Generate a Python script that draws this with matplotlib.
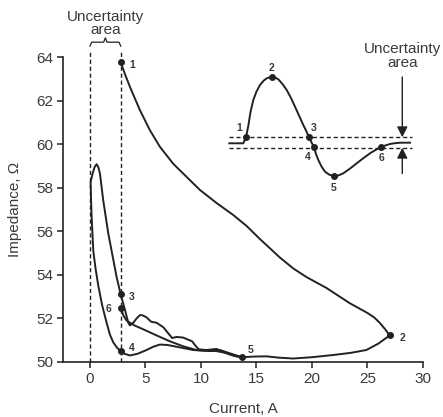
import matplotlib
matplotlib.use("Agg")
import matplotlib.pyplot as plt

plt.rcParams['font.family'] = ['Liberation Sans', 'DejaVu Sans']

INK = '#222222'
TXT = '#3a3a3a'

# main loop (current A, impedance ohm)
arc_12_x = [2.77, 3.2, 3.6, 4.5, 5.4, 6.3, 7.5, 8.7, 9.9, 11.4, 12.9, 14.1, 15.3, 17.1, 18.3,
            19.5, 21.3, 23.4, 25.0, 25.6, 26.1, 26.6, 27.0]
arc_12_y = [63.75, 63.15, 62.63, 61.56, 60.64, 59.88, 59.1, 58.5, 57.9, 57.3, 56.75, 56.25, 55.65,
            54.8, 54.3, 53.9, 53.4, 52.7, 52.25, 52.05, 51.8, 51.5, 51.22]

arc_25_x = [27.0, 26.0, 24.9, 23.5, 21.9, 20.0, 18.3, 17.0, 15.9, 14.8, 13.7]
arc_25_y = [51.22, 50.85, 50.55, 50.42, 50.32, 50.22, 50.16, 50.2, 50.26, 50.25, 50.22]

arc_53_x = [13.7, 13.2, 12.3, 11.4, 10.5, 9.8, 9.5, 9.2, 8.4, 7.8, 7.4, 7.0, 6.6, 6.0, 5.5, 5.1,
            4.7, 4.5, 4.2, 3.9, 3.6, 3.45, 3.15, 2.77, 2.4, 2.1, 1.65, 1.2, 0.9, 0.75, 0.6,
            0.42, 0.24, 0.06, 0.1, 0.15, 0.3, 0.5, 0.75, 1.1, 1.5, 1.8, 2.1, 2.45, 2.77]
arc_53_y = [50.22, 50.25, 50.4, 50.6, 50.55, 50.58, 50.75, 50.95, 51.12, 51.15, 51.1, 51.35, 51.6,
            51.8, 51.85, 52.05, 52.15, 52.15, 52.0, 51.8, 51.68, 51.8, 52.4, 53.1, 53.9, 54.7,
            55.9, 57.4, 58.65, 58.95, 59.08, 58.95, 58.65, 58.27, 57.4, 56.67, 55.1, 54.3, 53.5,
            52.6, 51.8, 51.25, 50.9, 50.65, 50.5]

arc_45_x = [2.77, 3.1, 3.6, 4.3, 5.1, 5.7, 6.3, 7.0, 7.8, 9.3, 10.8, 11.7, 12.3, 12.9, 13.7]
arc_45_y = [50.5, 50.38, 50.3, 50.38, 50.55, 50.7, 50.8, 50.78, 50.7, 50.55, 50.5, 50.55, 50.45,
            50.35, 50.22]

arc_56_x = [13.7, 12.9, 12.2, 11.4, 10.5, 9.6, 8.4, 7.2, 6.0, 4.8, 4.0, 3.3, 3.0, 2.77]
arc_56_y = [50.22, 50.3, 50.42, 50.5, 50.52, 50.55, 50.72, 50.95, 51.22, 51.5, 51.68, 51.9, 52.15, 52.5]

pt_labels = ['1', '2', '3', '4', '5', '6']
pt_x = [2.77, 27.0, 2.77, 2.77, 13.7, 2.77]
pt_y = [63.75, 51.22, 53.1, 50.5, 50.22, 52.5]
pt_off = [(6, -2), (7, -2), (6, -2), (6, 2), (4, 5), (-11, -1)]

unc_lo, unc_hi = 0.0, 2.77

# inset schematic (figure pixel coords)
wave_x = [229.3, 243.3, 246, 248.3, 250.5, 253.3, 256.5, 260, 263.5, 266.7, 271.7, 275, 278.3,
          282.5, 286.7, 291, 295, 299, 303.3, 306.5, 309, 314, 316, 318.3, 321.5, 325, 329.5,
          334, 338.5, 343.3, 350, 356.7, 363.5, 370, 375.5, 380.7, 385.5, 390, 395, 400, 410]
wave_y = [143.3, 143.3, 137.3, 126, 112, 100, 91.5, 85, 80.8, 78.3, 76.7, 77.4, 79.3, 84, 90,
          98, 106.7, 115.5, 125, 131.5, 137.3, 147.3, 154, 160, 166.5, 171.7, 174.8, 176, 175.4,
          173.3, 168.6, 163.3, 158.1, 153.3, 150, 147.3, 145.4, 144, 143.2, 142.7, 142.7]
wave_pt_x = [246, 271.7, 309, 314, 334, 380.7]
wave_pt_y = [137.3, 76.7, 137.3, 147.3, 176, 147.3]
wave_lab_x = [239.5, 271.7, 314, 307.7, 333.3, 381.7]
wave_lab_y = [127.7, 67.7, 127.7, 156.7, 187.7, 158.3]
band_y = [137.3, 147.7]

fig = plt.figure(figsize=(4.43, 4.17), dpi=100)
ax = fig.add_axes([0.1422, 0.1319, 0.8126, 0.7314])

for xs, ys in [(arc_12_x, arc_12_y), (arc_25_x, arc_25_y), (arc_53_x, arc_53_y),
               (arc_45_x, arc_45_y), (arc_56_x, arc_56_y)]:
    ax.plot(xs, ys, color=INK, lw=1.4, solid_joinstyle='round', solid_capstyle='round', zorder=3)

ax.plot(pt_x, pt_y, 'o', color=INK, ms=4, zorder=4)
for lab, x, y, off in zip(pt_labels, pt_x, pt_y, pt_off):
    ax.annotate(lab, (x, y), xytext=off, textcoords='offset points', fontsize=7.5,
                fontweight='bold', color=TXT, va='center', ha='left')

for xv in [unc_lo, unc_hi]:
    ax.plot([xv, xv], [50, 64.3], ls=(0, (3, 2)), color=INK, lw=1.0, clip_on=False, zorder=2)

# brace over the uncertainty band
mid = (unc_lo + unc_hi) / 2
bx = [unc_lo, unc_lo + 0.15, mid - 0.15, mid, mid + 0.15, unc_hi - 0.15, unc_hi]
by = [64.5, 64.68, 64.68, 64.88, 64.68, 64.68, 64.5]
ax.plot(bx, by, color=INK, lw=0.9, clip_on=False)
ax.text(mid, 65.55, 'Uncertainty\narea', ha='center', va='center', fontsize=11,
        color=TXT, linespacing=0.95, clip_on=False)

ax.set_xlim(-2.43, 30)
ax.set_ylim(50, 64)
ax.set_xticks([0, 5, 10, 15, 20, 25, 30])
ax.set_yticks([50, 52, 54, 56, 58, 60, 62, 64])
ax.spines['top'].set_visible(False)
ax.spines['right'].set_visible(False)
for s in ['left', 'bottom']:
    ax.spines[s].set_color(INK)
    ax.spines[s].set_linewidth(1.2)
ax.tick_params(direction='out', length=4, width=1.1, colors=INK, labelsize=11, labelcolor=TXT, pad=3)
ax.set_xlabel('Current, A', fontsize=11, color=TXT, labelpad=12)
ax.set_ylabel('Impedance, Ω', fontsize=11, color=TXT, labelpad=10)
ax.patch.set_alpha(0)

# overlay for the schematic inset
ov = fig.add_axes([0, 0, 1, 1])
ov.set_xlim(0, 443)
ov.set_ylim(417, 0)
ov.axis('off')
ov.patch.set_alpha(0)
ov.plot(wave_x, wave_y, color=INK, lw=1.4, solid_joinstyle='round')
ov.plot(wave_pt_x, wave_pt_y, 'o', color=INK, ms=4)
for lab, x, y in zip(pt_labels, wave_lab_x, wave_lab_y):
    ov.text(x, y, lab, fontsize=7.5, fontweight='bold', color=TXT, ha='center', va='center')
for yb in band_y:
    ov.plot([229, 411.7], [yb, yb], ls=(0, (3, 2)), color=INK, lw=1.0)
head = '-|>,head_length=0.7,head_width=0.35'
ov.annotate('', xy=(402.3, band_y[0]), xytext=(402.3, 77),
            arrowprops=dict(arrowstyle=head, color=INK, lw=1.0, mutation_scale=9, shrinkA=0, shrinkB=0))
ov.annotate('', xy=(402.3, band_y[1]), xytext=(402.3, 173.5),
            arrowprops=dict(arrowstyle=head, color=INK, lw=1.0, mutation_scale=9, shrinkA=0, shrinkB=0))
ov.text(402.3, 56, 'Uncertainty\narea', ha='center', va='center', fontsize=11,
        color=TXT, linespacing=0.95)

fig.savefig('out.png', dpi=100)
